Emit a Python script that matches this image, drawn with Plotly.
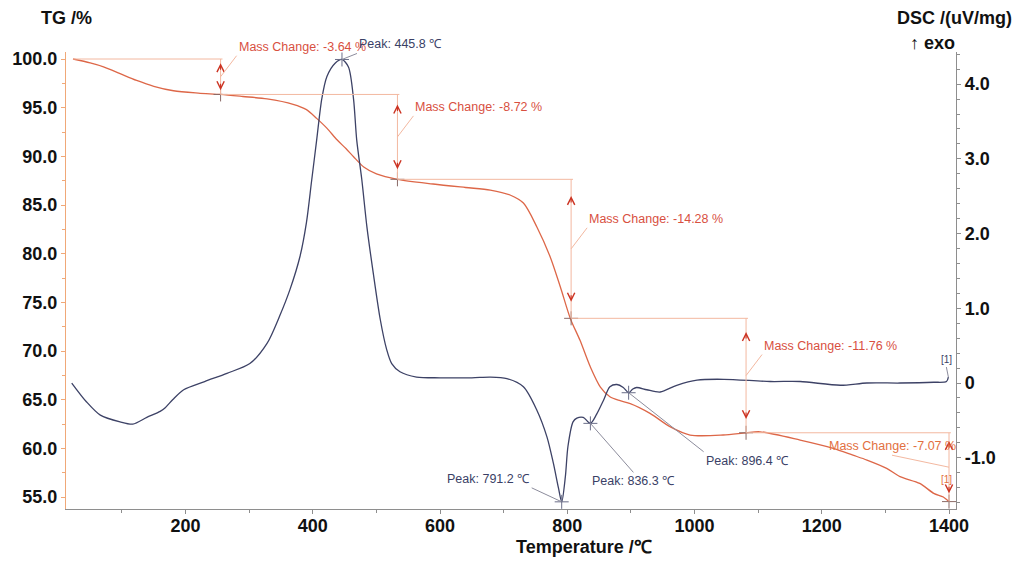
import plotly.graph_objects as go

# ---------------- data ----------------
tg_temp = [23, 50, 71, 97, 123, 150, 181, 220, 255, 290, 328, 369, 390, 406, 422, 438,
           452, 464, 480, 500, 533, 589, 640, 679, 710, 731, 752, 773, 789, 805, 820,
           836, 852, 867, 883, 899, 930, 962, 993, 1045, 1081, 1103, 1166, 1218, 1249,
           1271, 1302, 1323, 1354, 1376, 1391, 1400]
tg_mass = [100.0, 99.6, 99.2, 98.5, 97.8, 97.2, 96.74, 96.5, 96.36, 96.15, 95.9, 95.35,
           94.8, 93.9, 92.9, 91.7, 90.8, 89.96, 88.9, 88.2, 87.64, 87.16, 86.8, 86.54,
           86.03, 85.2, 82.77, 79.69, 76.6, 73.3, 71.1, 68.4, 66.3, 65.3, 64.9, 64.6,
           63.6, 62.2, 61.37, 61.37, 61.6, 61.7, 60.85, 60.0, 59.3, 58.8, 57.95, 57.1,
           56.4, 55.38, 55.0, 54.53]

dsc_temp = [21, 44, 66, 97, 117, 139, 160, 168, 180, 197, 230, 265, 301, 328, 348, 364,
            380, 390, 398, 406, 414, 422, 435, 445.8, 456, 464, 469, 477, 485, 495, 506,
            516, 524, 537, 563, 600, 650, 679, 705, 731, 752, 768, 778, 786, 791.2, 797,
            801, 809, 815, 825, 836.3, 846, 857, 867, 878, 888, 896.4, 903, 909, 925,
            946, 972, 1004, 1046, 1119, 1166, 1229, 1271, 1323, 1376, 1396, 1399]
dsc_signal = [0.0, -0.25, -0.43, -0.52, -0.55, -0.46, -0.38, -0.33, -0.22, -0.09, 0.02,
              0.13, 0.26, 0.53, 0.9, 1.25, 1.7, 2.15, 2.7, 3.25, 3.8, 4.1, 4.28, 4.33,
              4.23, 3.8, 3.25, 2.72, 2.09, 1.47, 0.85, 0.45, 0.26, 0.15, 0.08, 0.07, 0.07,
              0.08, 0.06, -0.05, -0.36, -0.72, -1.07, -1.4, -1.59, -1.25, -0.85, -0.52,
              -0.47, -0.46, -0.54, -0.42, -0.23, -0.05, -0.02, -0.06, -0.13, -0.08, -0.06,
              -0.09, -0.12, -0.03, 0.04, 0.05, 0.02, 0.02, -0.03, 0.0, 0.0, 0.01, 0.02,
              0.08]

step_temps = [255, 533, 806, 1081, 1400]
mass_changes = [-3.64, -8.72, -14.28, -11.76, -7.07]

peak_temps = [445.8, 791.2, 836.3, 896.4]
peak_values = [4.33, -1.59, -0.54, -0.13]

x_ticks = [200, 400, 600, 800, 1000, 1200, 1400]
tg_ticks = [55, 60, 65, 70, 75, 80, 85, 90, 95, 100]
dsc_ticks = [-1, 0, 1, 2, 3, 4]
dsc_tick_text = ["-1.0", "0", "1.0", "2.0", "3.0", "4.0"]

# ---------------- styles ----------------
FONT = "Liberation Sans, Arial, sans-serif"
TG_COLOR = "#dd6748"
DSC_COLOR = "#3d4266"
MC_TEXT = "#d8503f"
MC_TEXT_LAST = "#e2703f"
REF_LINE = "#f3b8a0"
CHEVRON = "#cc3322"
PEAK_TEXT = "#3a3f66"
LEADER = "#8c8c9c"

levels = [100.0]
for c in mass_changes:
    levels.append(round(levels[-1] + c, 2))

fig = go.Figure()

fig.add_trace(go.Scatter(x=tg_temp, y=tg_mass, mode="lines", yaxis="y",
                         line=dict(color=TG_COLOR, width=1.3, shape="spline", smoothing=0.8),
                         hoverinfo="skip", showlegend=False))
fig.add_trace(go.Scatter(x=dsc_temp, y=dsc_signal, mode="lines", yaxis="y2",
                         line=dict(color=DSC_COLOR, width=1.3, shape="spline", smoothing=0.8),
                         hoverinfo="skip", showlegend=False))

# cross markers
fig.add_trace(go.Scatter(x=peak_temps, y=peak_values, mode="markers", yaxis="y2",
                         marker=dict(symbol="cross-thin", size=10,
                                     line=dict(color="#6a6e88", width=1)),
                         hoverinfo="skip", showlegend=False))
fig.add_trace(go.Scatter(x=step_temps, y=levels[1:], mode="markers", yaxis="y",
                         marker=dict(symbol="cross-thin", size=10,
                                     line=dict(color="#8a6a66", width=1)),
                         hoverinfo="skip", showlegend=False))

shapes = []
annotations = []
for i, T in enumerate(step_temps):
    x0 = tg_temp[0] if i == 0 else step_temps[i - 1]
    top, bot = levels[i], levels[i + 1]
    shapes.append(dict(type="line", xref="x", yref="y", x0=x0, x1=T + 3, y0=top, y1=top,
                       line=dict(color=REF_LINE, width=1)))
    shapes.append(dict(type="line", xref="x", yref="y", x0=T, x1=T, y0=top, y1=bot,
                       line=dict(color=REF_LINE, width=1)))
    span = top - bot
    inset = 0.12 * span
    annotations.append(dict(x=T, y=top - inset, xref="x", yref="y", text="",
                            showarrow=True, arrowhead=5, arrowsize=1.3, arrowwidth=1.1,
                            arrowcolor=CHEVRON, ax=0, ay=8))
    annotations.append(dict(x=T, y=bot + inset, xref="x", yref="y", text="",
                            showarrow=True, arrowhead=5, arrowsize=1.3, arrowwidth=1.1,
                            arrowcolor=CHEVRON, ax=0, ay=-8))
    label = f"Mass Change: {mass_changes[i]:.2f} %"
    mid = (top + bot) / 2
    if i < len(step_temps) - 1:
        annotations.append(dict(x=T, y=mid, xref="x", yref="y", text=label,
                                showarrow=True, arrowhead=0, arrowwidth=1, arrowcolor=REF_LINE,
                                ax=16, ay=-21, xanchor="left", yanchor="bottom",
                                font=dict(family=FONT, size=12.5, color=MC_TEXT)))
    else:
        annotations.append(dict(x=T, y=mid, xref="x", yref="y", text=label,
                                showarrow=True, arrowhead=0, arrowwidth=1, arrowcolor=REF_LINE,
                                ax=-57, ay=-12, xanchor="center", yanchor="bottom",
                                font=dict(family=FONT, size=12.5, color=MC_TEXT_LAST)))

peak_offsets = [(15, -6, "left", "bottom"), (-30, -14, "right", "bottom"),
                (43, 49, "center", "top"), (75, 59, "left", "top")]
for T, v, (ax, ay, xa, ya) in zip(peak_temps, peak_values, peak_offsets):
    annotations.append(dict(x=T, y=v, xref="x", yref="y2", text=f"Peak: {T:.1f} ℃",
                            showarrow=True, arrowhead=0, arrowwidth=1, arrowcolor=LEADER,
                            ax=ax, ay=ay, xanchor=xa, yanchor=ya,
                            font=dict(family=FONT, size=12.5, color=PEAK_TEXT)))

# [1] end markers
annotations.append(dict(x=dsc_temp[-1], y=dsc_signal[-1], xref="x", yref="y2", text="[1]",
                        showarrow=True, arrowhead=0, arrowwidth=1, arrowcolor=LEADER,
                        ax=-2, ay=-10, xanchor="center", yanchor="bottom",
                        font=dict(family=FONT, size=10, color=PEAK_TEXT)))
annotations.append(dict(x=tg_temp[-1], y=tg_mass[-1], xref="x", yref="y", text="[1]",
                        showarrow=False, xshift=-3, yshift=22,
                        font=dict(family=FONT, size=10, color=MC_TEXT_LAST)))

# axis titles
title_font = dict(family=FONT, size=18, color="#111111", weight="bold")
annotations += [
    dict(x=0.001, y=1.0744, xref="paper", yref="paper", text="TG /%", showarrow=False,
         xanchor="center", yanchor="middle", font=title_font),
    dict(x=0.9978, y=1.0744, xref="paper", yref="paper", text="DSC /(uV/mg)", showarrow=False,
         xanchor="center", yanchor="middle", font=title_font),
    dict(x=0.9736, y=1.0204, xref="paper", yref="paper", text="↑ exo", showarrow=False,
         xanchor="center", yanchor="middle", font=title_font),
    dict(x=0.5815, y=-0.0825, xref="paper", yref="paper", text="Temperature /℃",
         showarrow=False, xanchor="center", yanchor="middle", font=title_font),
]

tick_font = dict(family=FONT, size=18, color="#111111", weight="bold")

fig.update_layout(
    width=1020, height=561,
    margin=dict(l=66, r=64, t=52, b=52),
    paper_bgcolor="white", plot_bgcolor="white",
    showlegend=False,
    shapes=shapes, annotations=annotations,
    xaxis=dict(range=[12, 1411], tickvals=x_ticks, showgrid=False, zeroline=False,
               showline=True, linecolor="#8e8e8e", linewidth=1.2,
               ticks="outside", ticklen=4, tickcolor="#8e8e8e", ticklabelstandoff=-4,
               minor=dict(dtick=100, tick0=0, ticks="outside", ticklen=3, tickcolor="#8e8e8e"),
               tickfont=tick_font),
    yaxis=dict(range=[53.77, 100.72], tickvals=tg_ticks, tickformat=".1f", showgrid=False,
               zeroline=False, showline=True, linecolor="#f0a878", linewidth=1.2,
               ticks="outside", ticklen=4, tickcolor="#f0a878",
               minor=dict(dtick=2.5, tick0=0, ticks="outside", ticklen=3, tickcolor="#f0a878"),
               tickfont=tick_font),
    yaxis2=dict(range=[-1.686, 4.43], overlaying="y", side="right", tickvals=dsc_ticks,
                ticktext=dsc_tick_text, showgrid=False, zeroline=False, showline=True,
                linecolor="#8e8e8e", linewidth=1.2, ticks="outside", ticklen=4,
                tickcolor="#8e8e8e",
                minor=dict(dtick=0.2, tick0=0, ticks="outside", ticklen=3, tickcolor="#8e8e8e"),
                tickfont=tick_font),
)

fig.write_html("out.html")
